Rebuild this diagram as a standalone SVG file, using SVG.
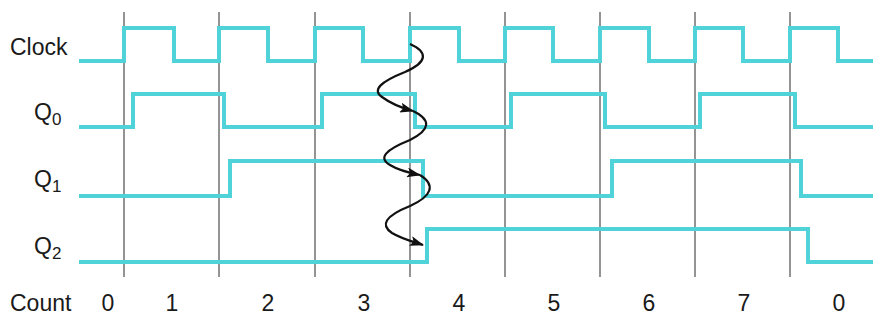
<svg xmlns="http://www.w3.org/2000/svg" width="874" height="320" viewBox="0 0 874 320">
<style>
.grid{stroke:#7a7a7a;stroke-width:1.6;fill:none}
.sig{stroke:#4fd3d9;stroke-width:4;fill:none;stroke-linejoin:miter}
.lbl{font-family:"Liberation Sans",Arial,sans-serif;font-size:23px;fill:#1a1a1a}
.sub{font-size:17px}
.num{font-family:"Liberation Sans",Arial,sans-serif;font-size:23px;fill:#1a1a1a;text-anchor:middle}
.arr{stroke:#111;stroke-width:2.2;fill:none;marker-end:url(#ah)}
</style>
<defs>
<marker id="ah" viewBox="0 0 14 10" refX="13" refY="5" markerWidth="14" markerHeight="10" markerUnits="userSpaceOnUse" orient="auto">
<path d="M0,0 L14,5 L0,10 L3,5 Z" fill="#111"/>
</marker>
</defs>
<rect width="874" height="320" fill="#fff"/>
<g id="gridlines">
<path class="grid" d="M124,12V277M219,12V277M315,12V277M410,12V277M505,12V277M600,12V277M695,12V277M790,12V277"/>
</g>
<g id="clock">
<text class="lbl" x="10" y="55">Clock</text>
<path class="sig" d="M79,61H124V28H174V61H219V28H268V61H315V28H363V61H410V28H459V61H505V28H553V61H600V28H649V61H695V28H743V61H790V28H838V61H873"/>
</g>
<g id="q0">
<text class="lbl" x="34" y="120">Q<tspan class="sub" dy="5">0</tspan></text>
<path class="sig" d="M79,127H133V94H224V127H322V94H415V127H511V94H605V127H700V94H795V127H873"/>
</g>
<g id="q1">
<text class="lbl" x="34" y="187">Q<tspan class="sub" dy="5">1</tspan></text>
<path class="sig" d="M79,196H230V161H423V196H612V161H801V196H873"/>
</g>
<g id="q2">
<text class="lbl" x="34" y="254">Q<tspan class="sub" dy="5">2</tspan></text>
<path class="sig" d="M79,262H427V229H808V262H873"/>
</g>
<g id="count">
<text class="lbl" x="10" y="311">Count</text>
<text class="num" x="108" y="311">0</text>
<text class="num" x="172" y="311">1</text>
<text class="num" x="268" y="311">2</text>
<text class="num" x="364" y="311">3</text>
<text class="num" x="459" y="311">4</text>
<text class="num" x="554" y="311">5</text>
<text class="num" x="649" y="311">6</text>
<text class="num" x="744" y="311">7</text>
<text class="num" x="839" y="311">0</text>
</g>
<g id="connectors">
<path class="arr" d="M410,44C428,52 428,62 405,72C380,82 372,90 382,97C390,103 402,108 413,111"/>
<path class="arr" d="M413,111C432,120 430,130 410,140C385,150 378,158 390,165C398,170 410,173 420,175"/>
<path class="arr" d="M420,175C436,185 432,196 410,206C385,216 380,225 392,233C402,239 414,242 423,245"/>
</g>
</svg>
